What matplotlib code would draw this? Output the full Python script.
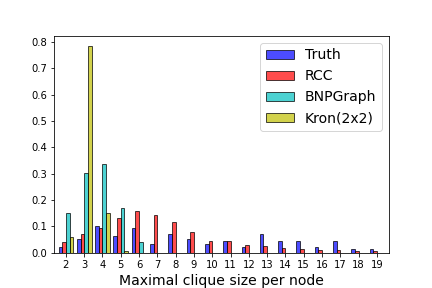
import matplotlib
matplotlib.use("Agg")
import matplotlib.pyplot as plt
import numpy as np

sizes = list(range(2, 20))
truth = [0.020, 0.050, 0.100, 0.062, 0.092, 0.032, 0.069, 0.051, 0.032, 0.043, 0.020, 0.069, 0.043, 0.043, 0.020, 0.043, 0.013, 0.013]
rcc = [0.039, 0.069, 0.092, 0.130, 0.156, 0.141, 0.115, 0.077, 0.043, 0.043, 0.028, 0.024, 0.016, 0.013, 0.009, 0.009, 0.005, 0.005]
bnpgraph = [0.152, 0.303, 0.337, 0.168, 0.039, 0, 0, 0, 0, 0, 0, 0, 0, 0, 0, 0, 0, 0]
kron = [0.058, 0.784, 0.152, 0.005, 0, 0, 0, 0, 0, 0, 0, 0, 0, 0, 0, 0, 0, 0]

series = [("Truth", truth, "b"), ("RCC", rcc, "r"), ("BNPGraph", bnpgraph, "c"), ("Kron(2x2)", kron, "y")]

fig, ax = plt.subplots(figsize=(6, 4), dpi=72)
fig.subplots_adjust(left=0.125, right=0.9, bottom=0.123, top=0.876)
x = np.array(sizes, dtype=float)
w = 0.2
for i, (name, vals, col) in enumerate(series):
    ax.bar(x - 0.3 + i * w, vals, width=w, color=col, alpha=0.7, edgecolor="black", label=name)

ax.set_xticks(sizes)
ax.set_xticklabels([str(s) for s in sizes])
ax.set_xlim(1.35, 19.65)
ax.set_xlabel("Maximal clique size per node", fontsize=14)
ax.legend(loc="upper right", fontsize=14)
fig.savefig("out.png", dpi=72)
